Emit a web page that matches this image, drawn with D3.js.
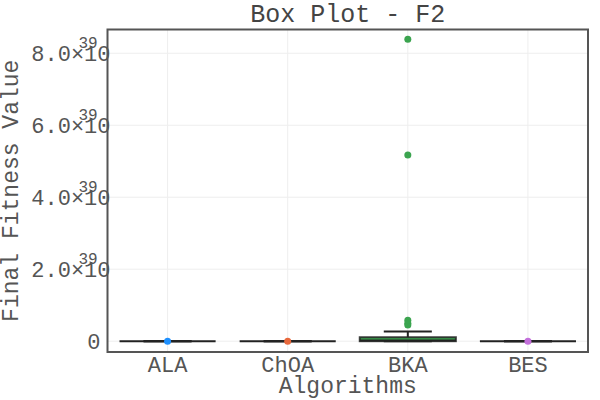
<!DOCTYPE html>
<html><head><meta charset="utf-8">
<script src="https://cdn.jsdelivr.net/npm/d3@7"></script>
<style>body{margin:0;background:#fff}</style>
</head><body>
<svg id="c" width="600" height="400"></svg>
<script>
const categories = ["ALA", "ChOA", "BKA", "BES"];
const colors = ["#1E90FF", "#E8683C", "#3BA44F", "#C36FDB"];
const whiskerLow = [0, 0, 0, 0];
const q1 = [0, 0, 0, 0];
const median = [0, 0, 0.02e39, 0];
const q3 = [0, 0, 0.11e39, 0];
const whiskerHigh = [0, 0, 0.27e39, 0];
const outliers = [[0], [0], [0.45e39, 0.5e39, 0.58e39, 5.17e39, 8.39e39], [0]];
const yTicks = [0, 2e39, 4e39, 6e39, 8e39];
const title = "Box Plot - F2";
const xTitle = "Algorithms";
const yTitle = "Final Fitness Value";

const font = "'Liberation Mono','Courier New',monospace";
const svg = d3.select("#c");
const L = 107.5, T = 29.5, R = 588, B = 352;
const x = d3.scaleBand().domain(categories).range([L, R]).padding(0);
const y = d3.scaleLinear().domain([-0.3e39, 8.66e39]).range([B, T]);

// grid
svg.append("g").selectAll("line").data(yTicks).join("line")
  .attr("x1", L).attr("x2", R).attr("y1", d => y(d)).attr("y2", d => y(d))
  .attr("stroke", "#eeeeee").attr("stroke-width", 1);
svg.append("g").selectAll("line").data(categories).join("line")
  .attr("x1", d => x(d) + x.bandwidth() / 2).attr("x2", d => x(d) + x.bandwidth() / 2)
  .attr("y1", T).attr("y2", B)
  .attr("stroke", "#eeeeee").attr("stroke-width", 1);

// y axis
const yAxis = svg.append("g").attr("transform", `translate(${L},0)`)
  .call(d3.axisLeft(y).tickValues(yTicks).tickSize(0).tickPadding(0).tickFormat(d => d === 0 ? "0" : (d / 1e39).toFixed(1) + "×10"));
yAxis.select(".domain").remove();
yAxis.selectAll(".tick text")
  .attr("font-family", font).attr("font-size", 22).attr("fill", "#555")
  .attr("dy", "0.32em")
  .attr("x", d => d === 0 ? -7 : 3);
yAxis.selectAll(".tick").filter(d => d !== 0).append("text")
  .text("39").attr("font-family", font).attr("font-size", 16).attr("fill", "#555")
  .attr("text-anchor", "start").attr("x", -29).attr("y", -6);

// x axis
const xAxis = svg.append("g").attr("transform", `translate(0,${B})`)
  .call(d3.axisBottom(x).tickSize(0).tickPadding(0));
xAxis.select(".domain").remove();
xAxis.selectAll(".tick text")
  .attr("font-family", font).attr("font-size", 22).attr("fill", "#555")
  .attr("y", 20).attr("dy", 0);

// boxes
const g = svg.append("g");
categories.forEach((c, i) => {
  const cx = x(c) + x.bandwidth() / 2;
  const bw = x.bandwidth() * 0.8;
  const cw = bw / 2;
  g.append("line").attr("x1", cx).attr("x2", cx).attr("y1", y(q3[i])).attr("y2", y(whiskerHigh[i]))
    .attr("stroke", "#222").attr("stroke-width", 2);
  g.append("line").attr("x1", cx).attr("x2", cx).attr("y1", y(q1[i])).attr("y2", y(whiskerLow[i]))
    .attr("stroke", "#222").attr("stroke-width", 2);
  g.append("line").attr("x1", cx - cw / 2).attr("x2", cx + cw / 2).attr("y1", y(whiskerHigh[i])).attr("y2", y(whiskerHigh[i]))
    .attr("stroke", "#222").attr("stroke-width", 2);
  g.append("line").attr("x1", cx - cw / 2).attr("x2", cx + cw / 2).attr("y1", y(whiskerLow[i])).attr("y2", y(whiskerLow[i]))
    .attr("stroke", "#222").attr("stroke-width", 2);
  g.append("rect").attr("x", cx - bw / 2).attr("width", bw)
    .attr("y", y(q3[i])).attr("height", Math.max(0, y(q1[i]) - y(q3[i])))
    .attr("fill", colors[i]).attr("stroke", "#222").attr("stroke-width", 2).attr("stroke-opacity", 0.85);
  g.append("line").attr("x1", cx - bw / 2).attr("x2", cx + bw / 2).attr("y1", y(median[i])).attr("y2", y(median[i]))
    .attr("stroke", "#222").attr("stroke-width", 2);
  g.selectAll(null).data(outliers[i]).join("circle")
    .attr("cx", cx).attr("cy", d => y(d)).attr("r", 3.5).attr("fill", colors[i]);
});

// frame
svg.append("rect").attr("x", L).attr("y", T).attr("width", R - L).attr("height", B - T)
  .attr("fill", "none").attr("stroke", "#555").attr("stroke-width", 2);

// titles
svg.append("text").text(title).attr("x", (L + R) / 2).attr("y", 22).attr("text-anchor", "middle")
  .attr("font-family", font).attr("font-size", 25).attr("fill", "#444");
svg.append("text").text(xTitle).attr("x", (L + R) / 2).attr("y", 393).attr("text-anchor", "middle")
  .attr("font-family", font).attr("font-size", 23).attr("fill", "#555");
svg.append("text").text(yTitle).attr("transform", `translate(18,${(T + B) / 2}) rotate(-90)`)
  .attr("text-anchor", "middle").attr("font-family", font).attr("font-size", 23).attr("fill", "#555");
</script>
</body></html>
